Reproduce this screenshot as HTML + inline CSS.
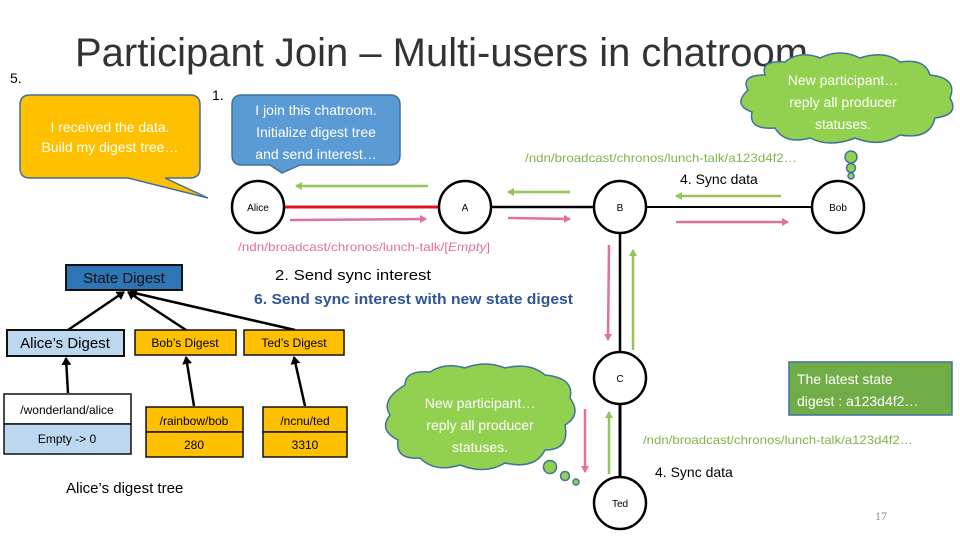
<!DOCTYPE html>
<html><head><meta charset="utf-8"><style>
body{margin:0;background:#fff}
svg{display:block;font-family:"Liberation Sans",sans-serif}
</style></head><body>
<svg width="960" height="540" viewBox="0 0 960 540" xmlns="http://www.w3.org/2000/svg">
<defs>
<marker id="ap" markerWidth="8" markerHeight="8" refX="6" refY="4" orient="auto" markerUnits="userSpaceOnUse"><path d="M0,0 L7,4 L0,8 z" fill="#e3709c"/></marker>
<marker id="ag" markerWidth="8" markerHeight="8" refX="6" refY="4" orient="auto" markerUnits="userSpaceOnUse"><path d="M0,0 L7,4 L0,8 z" fill="#92c55a"/></marker>
<marker id="ab" markerWidth="10" markerHeight="10" refX="7" refY="5" orient="auto" markerUnits="userSpaceOnUse"><path d="M0,0 L8,5 L0,10 z" fill="#000"/></marker>
</defs>
<text x="75" y="66" font-size="40" fill="#333" textLength="733" lengthAdjust="spacingAndGlyphs">Participant Join – Multi-users in chatroom</text>
<text x="10" y="83" font-size="14">5.</text>
<text x="212" y="100" font-size="14">1.</text>
<!-- orange callout -->
<path d="M30,95 H190 Q200,95 200,105 V168 Q200,178 190,178 H165 L208,198 L128,178 H30 Q20,178 20,168 V105 Q20,95 30,95 Z" fill="#ffc000" stroke="#41719c" stroke-width="1.5"/>
<text x="110" y="132" font-size="14" fill="#fff" text-anchor="middle">I received the data.</text>
<text x="110" y="152" font-size="14" fill="#fff" text-anchor="middle">Build my digest tree…</text>
<!-- blue callout -->
<path d="M242,95 H390 Q400,95 400,105 V155 Q400,165 390,165 H300 L282,173 L270,165 H242 Q232,165 232,155 V105 Q232,95 242,95 Z" fill="#5b9bd5" stroke="#41719c" stroke-width="1.5"/>
<text x="316" y="115" font-size="14" fill="#fff" text-anchor="middle">I join this chatroom.</text>
<text x="316" y="137" font-size="14" fill="#fff" text-anchor="middle">Initialize digest tree</text>
<text x="316" y="159" font-size="14" fill="#fff" text-anchor="middle">and send interest…</text>
<!-- top cloud -->
<g fill="#92d050" stroke="#41719c" stroke-width="1.5">
<path d="M765,75 Q760,60 785,62 Q800,50 820,58 Q840,48 860,58 Q885,50 900,62 Q925,58 930,75 Q958,78 950,98 Q960,115 935,118 Q930,140 900,135 Q880,148 855,138 Q830,148 810,138 Q785,145 775,128 Q748,130 752,112 Q732,105 748,90 Q740,75 765,75 Z"/>
<circle cx="851" cy="157" r="6"/><circle cx="851" cy="168" r="4.5"/><circle cx="851" cy="176" r="3"/>
</g>
<text x="843" y="85" font-size="14" fill="#fff" text-anchor="middle">New participant…</text>
<text x="843" y="107" font-size="14" fill="#fff" text-anchor="middle">reply all producer</text>
<text x="843" y="129" font-size="14" fill="#fff" text-anchor="middle">statuses.</text>
<text x="525" y="162" font-size="12" fill="#7fb44b" textLength="272" lengthAdjust="spacingAndGlyphs">/ndn/broadcast/chronos/lunch-talk/a123d4f2…</text>
<text x="680" y="184" font-size="14">4. Sync data</text>
<!-- edges -->
<line x1="285" y1="207" x2="438" y2="207" stroke="#e0141b" stroke-width="3"/>
<line x1="492" y1="207" x2="593" y2="207" stroke="#000" stroke-width="2.5"/>
<line x1="647" y1="207" x2="811" y2="207" stroke="#000" stroke-width="2"/>
<line x1="620" y1="234" x2="620" y2="351" stroke="#000" stroke-width="2.5"/>
<line x1="620" y1="405" x2="620" y2="476" stroke="#000" stroke-width="3"/>
<!-- nodes -->
<g fill="#fff" stroke="#000" stroke-width="2.5">
<circle cx="258" cy="207" r="26"/><circle cx="465" cy="207" r="26"/><circle cx="620" cy="207" r="26"/>
<circle cx="838" cy="207" r="26"/><circle cx="620" cy="378" r="26"/><circle cx="620" cy="503" r="26"/>
</g>
<g font-size="10" text-anchor="middle">
<text x="258" y="211">Alice</text><text x="465" y="211">A</text><text x="620" y="211">B</text>
<text x="838" y="211">Bob</text><text x="620" y="382">C</text><text x="620" y="507">Ted</text>
</g>
<!-- arrows -->
<g stroke-width="2.5" fill="none">
<line x1="428" y1="186" x2="296" y2="186" stroke="#92c55a" marker-end="url(#ag)"/>
<line x1="290" y1="220" x2="426" y2="219" stroke="#e3709c" marker-end="url(#ap)"/>
<line x1="570" y1="192" x2="508" y2="192" stroke="#92c55a" marker-end="url(#ag)"/>
<line x1="508" y1="218" x2="570" y2="219" stroke="#e3709c" marker-end="url(#ap)"/>
<line x1="781" y1="196" x2="676" y2="196" stroke="#92c55a" marker-end="url(#ag)"/>
<line x1="676" y1="222" x2="788" y2="222" stroke="#e3709c" marker-end="url(#ap)"/>
<line x1="609" y1="245" x2="608" y2="340" stroke="#e3709c" marker-end="url(#ap)"/>
<line x1="633" y1="350" x2="633" y2="250" stroke="#92c55a" marker-end="url(#ag)"/>
<line x1="585" y1="409" x2="585" y2="472" stroke="#e3709c" marker-end="url(#ap)"/>
<line x1="609" y1="474" x2="609" y2="412" stroke="#92c55a" marker-end="url(#ag)"/>
</g>
<text x="238" y="251" font-size="12" fill="#e3709c" textLength="252" lengthAdjust="spacingAndGlyphs">/ndn/broadcast/chronos/lunch-talk/[<tspan font-style="italic">Empty</tspan>]</text>
<text x="275" y="280" font-size="15" textLength="156" lengthAdjust="spacingAndGlyphs">2. Send sync interest</text>
<text x="254" y="304" font-size="14.5" font-weight="bold" fill="#2e5597" textLength="319" lengthAdjust="spacingAndGlyphs">6. Send sync interest with new state digest</text>
<!-- digest tree -->
<g stroke="#000" stroke-width="2.5" marker-end="url(#ab)">
<line x1="68" y1="330" x2="124" y2="292"/>
<line x1="186" y1="330" x2="128" y2="292"/>
<line x1="295" y1="330" x2="130" y2="292"/>
<line x1="68" y1="393" x2="66" y2="358"/>
<line x1="194" y1="406" x2="186" y2="357"/>
<line x1="305" y1="406" x2="294" y2="357"/>
</g>
<rect x="66" y="265" width="116" height="25" fill="#2e75b6" stroke="#111" stroke-width="2"/>
<text x="124" y="283" font-size="15" text-anchor="middle" fill="#111">State Digest</text>
<rect x="7" y="330" width="117" height="26" fill="#bdd7ee" stroke="#111" stroke-width="2"/>
<text x="65" y="348" font-size="15" text-anchor="middle">Alice’s Digest</text>
<rect x="135" y="330" width="101" height="25" fill="#ffc000" stroke="#111" stroke-width="1.5"/>
<text x="185" y="347" font-size="12" text-anchor="middle">Bob’s Digest</text>
<rect x="244" y="330" width="100" height="25" fill="#ffc000" stroke="#111" stroke-width="1.5"/>
<text x="294" y="347" font-size="12" text-anchor="middle">Ted’s Digest</text>
<rect x="4" y="394" width="127" height="30" fill="#fff" stroke="#111" stroke-width="1.5"/>
<rect x="4" y="424" width="127" height="30" fill="#bdd7ee" stroke="#111" stroke-width="1.5"/>
<text x="67" y="414" font-size="12" text-anchor="middle">/wonderland/alice</text>
<text x="67" y="443" font-size="12" text-anchor="middle">Empty -&gt; 0</text>
<rect x="146" y="407" width="97" height="25" fill="#ffc000" stroke="#111" stroke-width="1.5"/>
<rect x="146" y="432" width="97" height="25" fill="#ffc000" stroke="#111" stroke-width="1.5"/>
<text x="194" y="425" font-size="12" text-anchor="middle">/rainbow/bob</text>
<text x="194" y="449" font-size="12" text-anchor="middle">280</text>
<rect x="263" y="407" width="84" height="25" fill="#ffc000" stroke="#111" stroke-width="1.5"/>
<rect x="263" y="432" width="84" height="25" fill="#ffc000" stroke="#111" stroke-width="1.5"/>
<text x="305" y="425" font-size="12" text-anchor="middle">/ncnu/ted</text>
<text x="305" y="449" font-size="12" text-anchor="middle">3310</text>
<text x="66" y="493" font-size="15">Alice’s digest tree</text>
<!-- bottom cloud -->
<g fill="#92d050" stroke="#41719c" stroke-width="1.5">
<path d="M405,385 Q405,370 430,372 Q445,362 465,368 Q485,360 505,368 Q530,362 545,375 Q575,378 570,398 Q582,415 565,425 Q570,450 545,450 Q535,470 505,463 Q485,475 460,465 Q435,473 420,458 Q395,460 398,440 Q378,430 390,415 Q380,400 405,385 Z"/>
<circle cx="550" cy="467" r="6.5"/><circle cx="565" cy="476" r="4.5"/><circle cx="576" cy="482" r="3"/>
</g>
<text x="480" y="408" font-size="14" fill="#fff" text-anchor="middle">New participant…</text>
<text x="480" y="430" font-size="14" fill="#fff" text-anchor="middle">reply all producer</text>
<text x="480" y="452" font-size="14" fill="#fff" text-anchor="middle">statuses.</text>
<rect x="789" y="362" width="163" height="53" fill="#70ad47" stroke="#41719c" stroke-width="1.5"/>
<text x="797" y="384" font-size="14" fill="#fff">The latest state</text>
<text x="797" y="406" font-size="14" fill="#fff">digest : a123d4f2…</text>
<text x="643" y="444" font-size="12" fill="#7fb44b" textLength="270" lengthAdjust="spacingAndGlyphs">/ndn/broadcast/chronos/lunch-talk/a123d4f2…</text>
<text x="655" y="477" font-size="14">4. Sync data</text>
<text x="875" y="520" font-size="12" fill="#888" font-family="Liberation Serif, serif">17</text>
</svg>
</body></html>
